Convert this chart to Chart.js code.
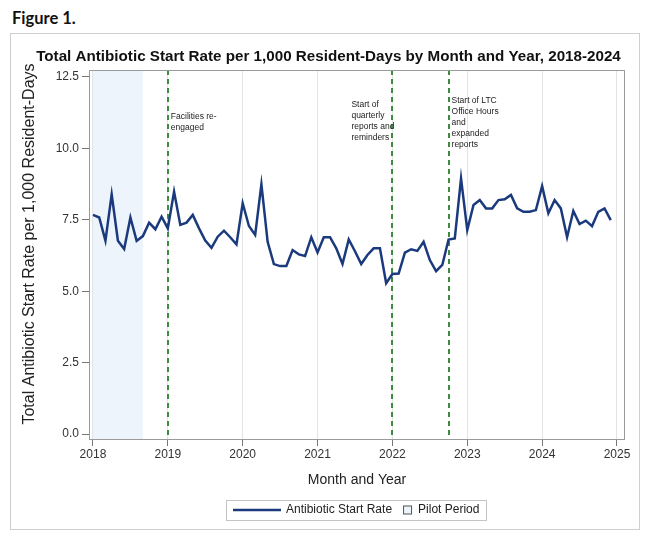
<!DOCTYPE html>
<html>
<head>
<meta charset="utf-8">
<script src="https://cdn.jsdelivr.net/npm/chart.js@4.4.0/dist/chart.umd.min.js"></script>
<style>
  body { margin: 0; background: #fff; width: 650px; height: 537px; position: relative; overflow: hidden; }
  #fig { position: absolute; left: 12px; top: 8px; font: bold 16.5px Lato, "Liberation Sans", sans-serif; color: #111; }
  #box { position: absolute; left: 10px; top: 33px; width: 630px; height: 497px; border: 1px solid #cfcfcf; box-sizing: border-box; }
  canvas { position: absolute; left: 0; top: 0; }
</style>
</head>
<body>
<div id="fig">Figure 1.</div>
<div id="box"><canvas id="myChart" width="628" height="495"></canvas></div>
<script>
// monthly antibiotic start rate per 1,000 resident-days (Jan..Dec)
const years = [2018, 2019, 2020, 2021, 2022, 2023, 2024];
const rate2018 = [7.67, 7.58, 6.77, 8.39, 6.77, 6.48, 7.58, 6.76, 6.93, 7.40, 7.17, 7.61];
const rate2019 = [7.20, 8.49, 7.32, 7.40, 7.67, 7.20, 6.77, 6.52, 6.91, 7.12, 6.89, 6.64];
const rate2020 = [8.08, 7.28, 6.97, 8.74, 6.73, 5.95, 5.88, 5.88, 6.44, 6.29, 6.23, 6.89];
const rate2021 = [6.36, 6.89, 6.89, 6.50, 5.95, 6.81, 6.40, 5.95, 6.27, 6.50, 6.50, 5.28];
const rate2022 = [5.60, 5.62, 6.35, 6.47, 6.41, 6.73, 6.09, 5.70, 5.92, 6.81, 6.85, 8.95];
const rate2023 = [7.14, 8.02, 8.19, 7.90, 7.90, 8.19, 8.22, 8.37, 7.90, 7.78, 7.78, 7.84];
const rate2024 = [8.68, 7.73, 8.19, 7.90, 6.89, 7.81, 7.35, 7.47, 7.28, 7.78, 7.90, 7.49];
const ratesByYear = [rate2018, rate2019, rate2020, rate2021, rate2022, rate2023, rate2024];

const yearTicks = [2018, 2019, 2020, 2021, 2022, 2023, 2024, 2025];
const rateTicks = [0, 2.5, 5, 7.5, 10, 12.5];
const pilotPeriod = [2018, 2018.667];
const eventDates = [2019, 2022, 2022.75];
const eventNotes = [
  ["Facilities re-", "engaged"],
  ["Start of", "quarterly", "reports and", "reminders"],
  ["Start of LTC", "Office Hours", "and", "expanded", "reports"]
];

const chartTitle = "Total Antibiotic Start Rate per 1,000 Resident-Days by Month and Year, 2018-2024";
const yTitle = "Total Antibiotic Start Rate per 1,000 Resident-Days";

const lineColor = "#1b3a7d";
const shadeColor = "#edf4fb";
const fontFamily = "'Liberation Sans', Arial, sans-serif";

// build the points (month m of a year sits at year + m/12)
const points = [];
years.forEach((yr, i) => {
  ratesByYear[i].forEach((v, m) => points.push({ x: yr + m / 12, y: v }));
});

// where each note sits relative to its dashed line
const noteSpots = [
  { dx: 3, y: 83 },
  { dx: -41, y: 71 },
  { dx: 3, y: 67 }
];

const extrasPlugin = {
  id: "extras",
  beforeDatasetsDraw(chart) {
    const ctx = chart.ctx;
    const xs = chart.scales.x;
    const area = chart.chartArea;
    ctx.save();
    // pilot period shading
    ctx.fillStyle = shadeColor;
    const p0 = xs.getPixelForValue(pilotPeriod[0]);
    const p1 = xs.getPixelForValue(pilotPeriod[1]);
    ctx.fillRect(p0, area.top, p1 - p0, area.bottom - area.top);
    // event lines
    ctx.strokeStyle = "#3d8b3d";
    ctx.lineWidth = 2;
    ctx.setLineDash([5, 4]);
    eventDates.forEach(d => {
      const px = Math.round(xs.getPixelForValue(d));
      ctx.beginPath();
      ctx.moveTo(px, area.top);
      ctx.lineTo(px, area.bottom);
      ctx.stroke();
    });
    ctx.restore();
  },
  afterDatasetsDraw(chart) {
    const ctx = chart.ctx;
    const xs = chart.scales.x;
    ctx.save();
    ctx.fillStyle = "#222";
    ctx.font = "8.5px " + fontFamily;
    ctx.textAlign = "left";
    ctx.textBaseline = "middle";
    eventNotes.forEach((lines, i) => {
      const px = xs.getPixelForValue(eventDates[i]) + noteSpots[i].dx;
      lines.forEach((t, j) => ctx.fillText(t, px, noteSpots[i].y + j * 10.8));
    });
    ctx.restore();
  },
  afterDraw(chart) {
    const ctx = chart.ctx;
    const area = chart.chartArea;
    ctx.save();
    // plot frame
    ctx.strokeStyle = "#9a9a9a";
    ctx.lineWidth = 1;
    ctx.strokeRect(area.left + 0.5, area.top + 0.5, area.right - area.left - 1, area.bottom - area.top - 1);

    // chart title
    ctx.fillStyle = "#111";
    ctx.textAlign = "center";
    ctx.textBaseline = "middle";
    ctx.font = "bold 15.2px " + fontFamily;
    ctx.fillText(chartTitle, 317.5, 23);

    // y axis title
    ctx.save();
    ctx.translate(19, 210);
    ctx.rotate(-Math.PI / 2);
    ctx.fillStyle = "#222";
    ctx.font = "16px " + fontFamily;
    ctx.fillText(yTitle, 0, 0);
    ctx.restore();

    // legend
    ctx.textAlign = "left";
    ctx.font = "12px " + fontFamily;
    const label1 = "Antibiotic Start Rate";
    const label2 = "Pilot Period";
    const w1 = ctx.measureText(label1).width;
    const w2 = ctx.measureText(label2).width;
    const total = 7 + 48 + 5 + w1 + 11 + 9 + 6 + w2 + 7;
    let lx = Math.round(356 - 11 - total / 2);
    const ly = 476;
    ctx.strokeStyle = "#c4c4c4";
    ctx.strokeRect(lx + 0.5, ly - 10 + 0.5, Math.round(total), 20);
    lx += 7;
    ctx.strokeStyle = lineColor;
    ctx.lineWidth = 2.5;
    ctx.beginPath();
    ctx.moveTo(lx, ly);
    ctx.lineTo(lx + 48, ly);
    ctx.stroke();
    lx += 53;
    ctx.fillStyle = "#222";
    ctx.fillText(label1, lx, ly);
    lx += w1 + 11;
    ctx.fillStyle = shadeColor;
    ctx.fillRect(lx, ly - 4.5, 9, 9);
    ctx.strokeStyle = "#555";
    ctx.lineWidth = 1;
    ctx.strokeRect(lx + 0.5, ly - 4.5 + 0.5, 8, 8);
    lx += 15;
    ctx.fillStyle = "#222";
    ctx.fillText(label2, lx, ly);
    ctx.restore();
  }
};

const ctx = document.getElementById("myChart").getContext("2d");
new Chart(ctx, {
  type: "line",
  data: {
    datasets: [{
      label: "Antibiotic Start Rate",
      data: points,
      borderColor: lineColor,
      borderWidth: 2.5,
      pointRadius: 0,
      tension: 0,
      fill: false
    }]
  },
  options: {
    responsive: false,
    animation: false,
    devicePixelRatio: 1,
    layout: { padding: { left: 0, right: 14, top: 36, bottom: 0 } },
    plugins: {
      legend: { display: false },
      tooltip: { enabled: false },
      title: { display: false }
    },
    scales: {
      x: {
        type: "linear",
        min: 2017.947,
        max: 2025.107,
        afterBuildTicks: s => { s.ticks = yearTicks.map(v => ({ value: v })); },
        afterFit: s => { s.height = 89; },
        ticks: {
          color: "#333",
          font: { family: fontFamily, size: 12 },
          padding: 1,
          maxRotation: 0,
          callback: v => String(v)
        },
        grid: { color: "#e4e4e4", tickColor: "#777", tickLength: 6 },
        border: { display: false },
        title: {
          display: true,
          text: "Month and Year",
          color: "#222",
          font: { family: fontFamily, size: 14 },
          padding: { top: 0, bottom: 40.6 }
        }
      },
      y: {
        min: -0.21,
        max: 12.745,
        afterBuildTicks: s => { s.ticks = rateTicks.map(v => ({ value: v })); },
        afterFit: s => { s.width = 78; },
        ticks: {
          color: "#333",
          font: { family: fontFamily, size: 12 },
          padding: 3,
          callback: v => v.toFixed(1)
        },
        grid: { drawOnChartArea: false, tickColor: "#777", tickLength: 7 },
        border: { display: false },
        title: { display: false }
      }
    }
  },
  plugins: [extrasPlugin]
});
</script>
</body>
</html>
